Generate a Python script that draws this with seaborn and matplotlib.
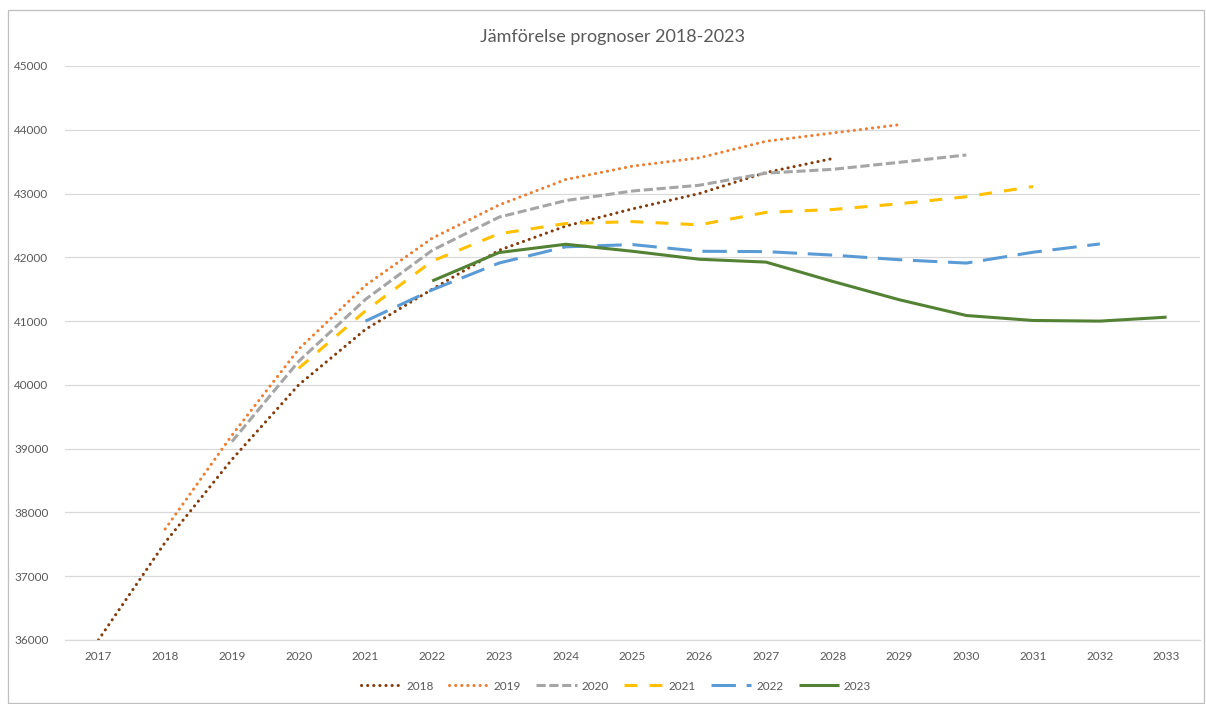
import numpy as np
import pandas as pd
import matplotlib
matplotlib.use("Agg")
import matplotlib.pyplot as plt
import seaborn as sns
from matplotlib.patches import Rectangle

# ---- data ----
years = list(range(2017, 2034))
series_names = ["2018", "2019", "2020", "2021", "2022", "2023"]
start_years = [2017, 2018, 2019, 2020, 2021, 2022]
v2018 = [36000, 37530, 38830, 40000, 40870, 41500, 42110, 42490, 42760, 43000, 43330, 43550]
v2019 = [37740, 39210, 40560, 41560, 42300, 42820, 43220, 43430, 43560, 43820, 43950, 44080]
v2020 = [39110, 40370, 41340, 42110, 42630, 42890, 43040, 43130, 43320, 43380, 43490, 43605]
v2021 = [40260, 41160, 41940, 42370, 42530, 42560, 42510, 42705, 42750, 42840, 42950, 43110]
v2022 = [41000, 41490, 41910, 42165, 42200, 42095, 42090, 42035, 41962, 41910, 42080, 42210]
v2023 = [41630, 42075, 42205, 42095, 41970, 41925, 41622, 41334, 41088, 41010, 41000, 41062]
values = [v2018, v2019, v2020, v2021, v2022, v2023]
yticks = list(range(36000, 45001, 1000))
title = "Jämförelse prognoser 2018-2023"

# ---- styles ----
colors = ["#843C0C", "#ED7D31", "#A5A5A5", "#FFC000", "#5B9BD5", "#548235"]
styles = [
    dict(linestyle=(0, (0.05, 1.95)), dash_capstyle="round"),
    dict(linestyle=(0, (0.05, 1.95)), dash_capstyle="round"),
    dict(linestyle=(0, (3, 1.2)), dash_capstyle="butt"),
    dict(linestyle=(0, (4.2, 4.0)), dash_capstyle="butt"),
    dict(linestyle=(0, (8, 3.5)), dash_capstyle="butt"),
    dict(linestyle="-", solid_capstyle="butt"),
]

sns.set_theme(style="white")
plt.rcParams["font.family"] = ["Lato", "DejaVu Sans"]

fig = plt.figure(figsize=(12.06, 7.04), dpi=100)
ax = fig.add_axes([65 / 1206, 1 - 640 / 704, (1200 - 65) / 1206, (640 - 66) / 704])

lw = 2.2
for name, sy, vals, col, st in zip(series_names, start_years, values, colors, styles):
    df = pd.DataFrame({"year": list(range(sy, sy + len(vals))), "value": vals})
    sns.lineplot(data=df, x="year", y="value", ax=ax, color=col, lw=lw,
                 label=name, legend=False, **st)

ax.set_xlim(2016.5, 2033.5)
ax.set_ylim(36000, 45000)
ax.set_xticks(years)
ax.set_xticklabels([str(y) for y in years])
ax.set_yticks(yticks)
ax.set_yticklabels([str(v) for v in yticks])
ax.set_xlabel("")
ax.set_ylabel("")
ax.grid(axis="y", color="#D9D9D9", lw=0.9)
ax.grid(axis="x", visible=False)
ax.set_axisbelow(True)
for s in ["top", "right", "left"]:
    ax.spines[s].set_visible(False)
ax.spines["bottom"].set_color("#D9D9D9")
ax.spines["bottom"].set_linewidth(0.9)
ax.tick_params(axis="both", length=0, colors="#595959", labelsize=8.5)
ax.tick_params(axis="y", pad=12)
ax.tick_params(axis="x", pad=8)

fig.text(612 / 1206, 1 - 37 / 704, title, ha="center", va="center",
         fontsize=13, color="#595959")

handles = ax.get_lines()[:6]
leg = fig.legend(handles, series_names, loc="center", bbox_to_anchor=(616 / 1206, 1 - 686 / 704),
                 ncol=6, frameon=False, fontsize=8.5, handlelength=3.4, handletextpad=0.4,
                 columnspacing=1.3)
for t in leg.get_texts():
    t.set_color("#595959")

fig.add_artist(Rectangle((8 / 1206, 0.002), 1 - 8 / 1206 - 0.002, 1 - 10 / 704 - 0.002,
                         transform=fig.transFigure, fill=False, ec="#BFBFBF", lw=0.9))

fig.savefig("out.png", dpi=100)
